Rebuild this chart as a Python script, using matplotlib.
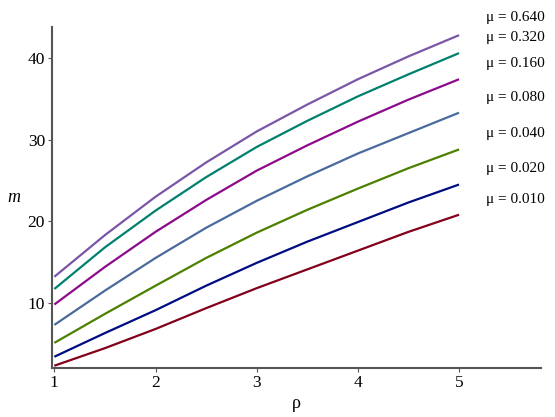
import matplotlib
matplotlib.use("Agg")
import matplotlib.pyplot as plt

rho = [1.0, 1.5, 2.0, 2.5, 3.0, 3.5, 4.0, 4.5, 5.0]

# m(rho) for each mu
m_010 = [2.3, 4.45, 6.8, 9.35, 11.8, 14.1, 16.4, 18.7, 20.8]
m_020 = [3.4, 6.3, 9.1, 12.1, 14.9, 17.5, 19.9, 22.3, 24.5]
m_040 = [5.1, 8.65, 12.1, 15.5, 18.6, 21.4, 24.0, 26.5, 28.8]
m_080 = [7.3, 11.5, 15.5, 19.2, 22.5, 25.5, 28.3, 30.8, 33.3]
m_160 = [9.8, 14.4, 18.7, 22.6, 26.2, 29.3, 32.2, 34.9, 37.4]
m_320 = [11.7, 16.8, 21.3, 25.4, 29.1, 32.3, 35.3, 38.0, 40.6]
m_640 = [13.2, 18.3, 23.0, 27.2, 31.0, 34.3, 37.4, 40.2, 42.8]

series = [m_010, m_020, m_040, m_080, m_160, m_320, m_640]
colors = ['#82001A', '#000C82', '#4C8000', '#4A6A9E', '#8C0A8C', '#00806F', '#7A55A8']

# labels on the right (text, y position in figure pixels from top)
mu_labels = ['\u03bc = 0.640', '\u03bc = 0.320', '\u03bc = 0.160', '\u03bc = 0.080',
             '\u03bc = 0.040', '\u03bc = 0.020', '\u03bc = 0.010']
label_y = [18, 37, 63, 97, 133, 169, 200]

plt.rcParams['font.family'] = ['Liberation Serif', 'DejaVu Serif']

fig = plt.figure(figsize=(5.55, 4.17), dpi=100)
ax = fig.add_axes([52/555, 1 - 368/417, (541 - 52)/555, (368 - 27)/417])

for vals, c in zip(series, colors):
    ax.plot(rho, vals, color=c, lw=1.6, solid_capstyle='butt')

ax.set_xlim(0.977, 5.81)
ax.set_ylim(2.02, 43.8)
ax.set_xticks([1, 2, 3, 4, 5])
ax.set_yticks([10, 20, 30, 40])

for s in ['top', 'right']:
    ax.spines[s].set_visible(False)
for s in ['left', 'bottom']:
    ax.spines[s].set_color('#555555')
    ax.spines[s].set_linewidth(1.5)
ax.tick_params(direction='out', length=3, width=0.8, color='#555555', labelsize=12.5, pad=2)

ax.set_xlabel('\u03c1', fontsize=13, labelpad=3)
ax.set_ylabel('m', fontsize=13, style='italic', rotation=0, labelpad=10, va='center')

for txt, yp in zip(mu_labels, label_y):
    fig.text(486/555, 1 - yp/417, txt, fontsize=11, va='center', ha='left')

fig.savefig('out.png', dpi=100)
